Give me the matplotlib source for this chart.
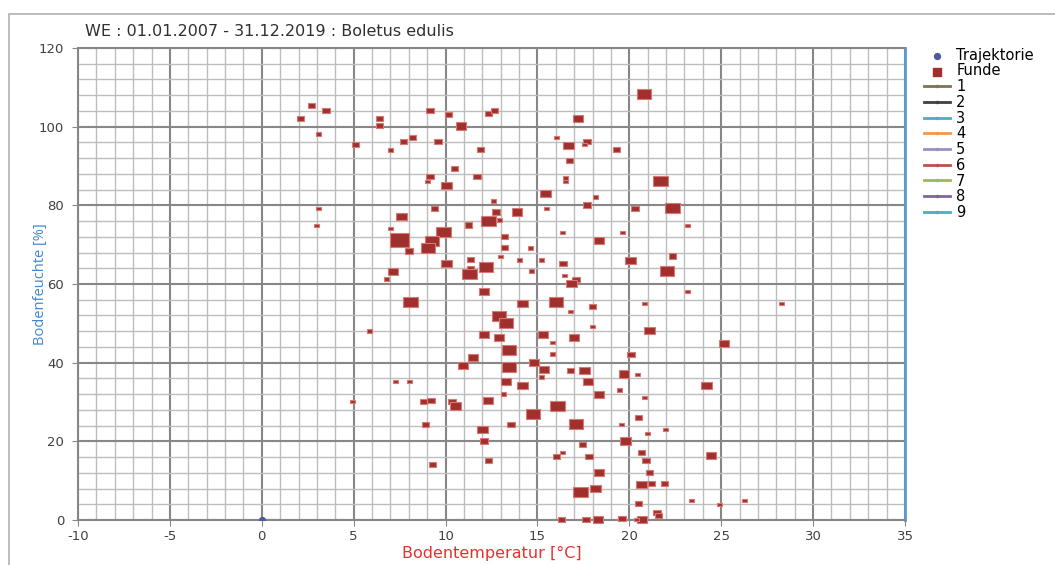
import matplotlib.pyplot as plt
import numpy as np
from matplotlib.patches import Rectangle

plt.rcParams['axes.unicode_minus'] = False

# Funde: Bodentemperatur [°C], Bodenfeuchte [%], Anzahl (Größenklasse 1..5)
temp = [2.1, 2.7, 3.5, 3.1, 3.1, 3.0, 5.1, 6.4, 6.4, 7.0, 7.7, 8.2, 9.15, 9.6, 10.15,
        10.85, 11.9, 12.35, 12.65, 10.5, 9.15, 9.0, 10.05, 11.7, 9.4, 12.6, 12.75, 13.9,
        7.6, 7.0, 7.5, 8.0, 9.9, 9.25, 9.05, 11.25, 12.35, 12.95, 13.2, 13.2, 13.0, 14.6,
        14.05, 15.2, 11.35, 10.05, 11.35, 11.3, 12.2, 14.65, 7.15, 6.8, 12.1, 8.1, 14.2,
        16.0, 16.8, 18.0, 18.0, 12.9, 13.3, 12.1, 12.9, 15.3, 17.0, 15.8, 15.8, 13.45,
        5.85, 11.5, 10.95, 13.45, 14.8, 15.35, 15.2, 16.8, 17.55, 17.75, 19.7, 20.45,
        19.45, 18.35, 20.8, 20.5, 21.0, 13.3, 14.2, 13.15, 7.3, 8.05, 4.95, 8.8, 9.2,
        10.35, 10.55, 12.3, 16.1, 14.75, 17.1, 13.55, 8.9, 19.6, 12.0, 12.1, 19.8, 17.45,
        21.95, 9.3, 12.35, 16.05, 16.35, 17.8, 20.65, 20.9, 18.35, 21.1, 18.15, 17.35,
        20.65, 21.2, 21.9, 20.5, 21.5, 21.6, 23.4, 24.9, 26.25, 16.3, 17.65, 18.3, 19.6,
        20.7, 20.4, 23.15, 20.85, 28.3, 21.1, 25.15, 20.1, 24.2, 24.45,
        20.8, 19.3, 21.7, 22.35, 20.3, 23.15, 19.65, 18.35, 20.05, 22.35, 22.05,
        17.2, 16.05, 16.7, 17.7, 17.55, 16.75, 16.55, 16.5, 15.45, 18.15, 17.7, 15.5,
        16.35, 16.4, 16.45, 17.1, 16.85]
feuchte = [102.1, 105.4, 104.1, 98.1, 79.2, 74.9, 95.5, 102.0, 100.3, 94.1, 96.2, 97.2,
           104.2, 96.2, 103.1, 100.2, 94.3, 103.4, 104.2, 89.4, 87.3, 86.0, 85.1, 87.3,
           79.3, 81.1, 78.3, 78.3, 77.1, 74.1, 71.2, 68.4, 73.3, 71.0, 69.1, 75.0, 76.1,
           76.3, 72.1, 69.2, 67.0, 69.1, 66.1, 66.1, 66.2, 65.3, 63.8, 62.5, 64.2, 63.3,
           63.2, 61.3, 58.1, 55.3, 55.1, 55.3, 53.0, 54.2, 49.2, 51.9, 50.1, 47.2, 46.4,
           47.2, 46.4, 45.1, 42.2, 43.2, 48.1, 41.4, 39.2, 39.0, 40.1, 38.3, 36.3, 38.1,
           38.1, 35.2, 37.1, 37.0, 33.1, 32.0, 31.1, 26.0, 22.0, 35.2, 34.1, 32.0, 35.2,
           35.2, 30.1, 30.1, 30.4, 30.1, 29.0, 30.3, 29.0, 27.0, 24.3, 24.3, 24.3, 24.3,
           23.0, 20.1, 20.1, 19.3, 23.0, 14.2, 15.1, 16.1, 17.1, 16.1, 17.1, 15.1, 12.0,
           12.1, 8.1, 7.0, 9.0, 9.2, 9.2, 4.1, 2.0, 1.1, 4.9, 4.0, 4.9, 0.2, 0.2, 0.2,
           0.3, 0.2, 0.1, 58.1, 55.1, 55.1, 48.1, 44.9, 42.1, 34.1, 16.4,
           108.3, 94.1, 86.2, 79.2, 79.1, 74.9, 73.1, 71.1, 66.0, 67.1, 63.3,
           102.1, 97.3, 95.2, 96.2, 95.5, 91.3, 86.9, 86.0, 83.1, 82.1, 80.1, 79.2,
           73.1, 65.3, 62.1, 61.2, 60.2]
anzahl = [2, 2, 2, 1, 1, 1, 2, 2, 2, 1, 2, 2, 2, 2, 2,
          3, 2, 2, 2, 2, 2, 1, 3, 2, 2, 1, 2, 3,
          3, 1, 5, 2, 4, 4, 4, 2, 4, 1, 2, 2, 1, 1,
          1, 1, 2, 3, 2, 4, 4, 1, 3, 1, 3, 4, 3,
          4, 1, 2, 1, 4, 4, 3, 3, 3, 3, 1, 1, 4,
          1, 3, 3, 4, 3, 3, 1, 2, 3, 3, 3, 1,
          1, 3, 1, 2, 1, 3, 3, 1, 1, 1, 1, 2, 2,
          2, 3, 3, 4, 4, 4, 2, 2, 1, 3, 2, 3, 2,
          1, 2, 2, 2, 1, 2, 2, 2, 3, 2, 3, 4,
          3, 2, 2, 2, 2, 2, 1, 1, 1, 2, 2, 3, 2,
          3, 1, 1, 1, 1, 3, 3, 2, 3, 3,
          4, 2, 4, 4, 2, 1, 1, 3, 3, 2, 4,
          3, 1, 3, 2, 1, 2, 1, 1, 3, 1, 2, 1,
          1, 2, 1, 2, 3]

# Trajektorie
traj_t = [0]
traj_f = [0]

serien = ['1', '2', '3', '4', '5', '6', '7', '8', '9']
serien_farben = ['#7f7350', '#404040', '#4bacc6', '#f79646', '#9a8fc0',
                 '#c0504d', '#9bbb59', '#8064a2', '#4bacc6']

fig = plt.figure(figsize=(10.55, 5.65), dpi=100)
ax = fig.add_axes([78/1055, 1 - 520/565, 827/1055, 472/565])

# outer frame like the Excel chart area
fig.patches.append(Rectangle((9/1055, -0.02), 1.1, 1 - 14/565 + 0.02,
                             transform=fig.transFigure, fill=False,
                             edgecolor='#b0b0b0', lw=1.2))

# rectangle marker (wider than high)
rect = [(-1.45, -1), (1.45, -1), (1.45, 1), (-1.45, 1), (-1.45, -1)]
groesse = {1: 5, 2: 7.5, 3: 10.5, 4: 14.5, 5: 19.5}
s = [(groesse[a] / 1.389) ** 2 for a in anzahl]

ax.scatter(traj_t, traj_f, s=18, color='#4a5c9e', zorder=4, label='Trajektorie')
ax.scatter(temp, feuchte, s=s, marker=rect, facecolor='#a0302e',
           edgecolor='#d77a75', linewidths=0.8, zorder=3, clip_on=False)
ax.scatter([], [], s=30, marker='s', color='#a0302e', label='Funde')
for name, c in zip(serien, serien_farben):
    ax.plot([], [], color=c, lw=2, marker='.', ms=3, label=name)

ax.set_xlim(-10, 35)
ax.set_ylim(0, 120)
ax.set_xticks(np.arange(-10, 36, 5))
ax.set_yticks(np.arange(0, 121, 20))
ax.set_xticks(np.arange(-10, 36, 1), minor=True)
ax.set_yticks(np.arange(0, 121, 4), minor=True)
ax.grid(which='minor', color='#bdbdbd', lw=1.0)
ax.grid(which='major', color='#878787', lw=1.5)
ax.set_axisbelow(True)
ax.tick_params(which='minor', length=0)
ax.tick_params(which='major', length=4, color='#878787', labelsize=9.5,
               labelcolor='#404040')
ax.tick_params(axis='y', pad=6)
for sp in ['left', 'bottom', 'top']:
    ax.spines[sp].set_color('#878787')
    ax.spines[sp].set_linewidth(1.5)
ax.spines['right'].set_color('#5b9bd5')
ax.spines['right'].set_linewidth(2)

ax.set_xlabel('Bodentemperatur [°C]', color='#e8302e', fontsize=11.5, labelpad=2)
ax.set_ylabel('Bodenfeuchte [%]', color='#3f86d0', fontsize=10.5,
              family='Open Sans', labelpad=-7)
fig.text(85/1055, 1 - 31/565, 'WE : 01.01.2007 - 31.12.2019 : Boletus edulis',
         fontsize=11.5, color='#303030', va='center')

ax.legend(loc='upper left', bbox_to_anchor=(1.016, 1.013), frameon=False,
          prop={'size': 10.5}, handlelength=1.8, handletextpad=0.4,
          labelspacing=0.05, borderaxespad=0)

fig.savefig('out.png', dpi=100)
